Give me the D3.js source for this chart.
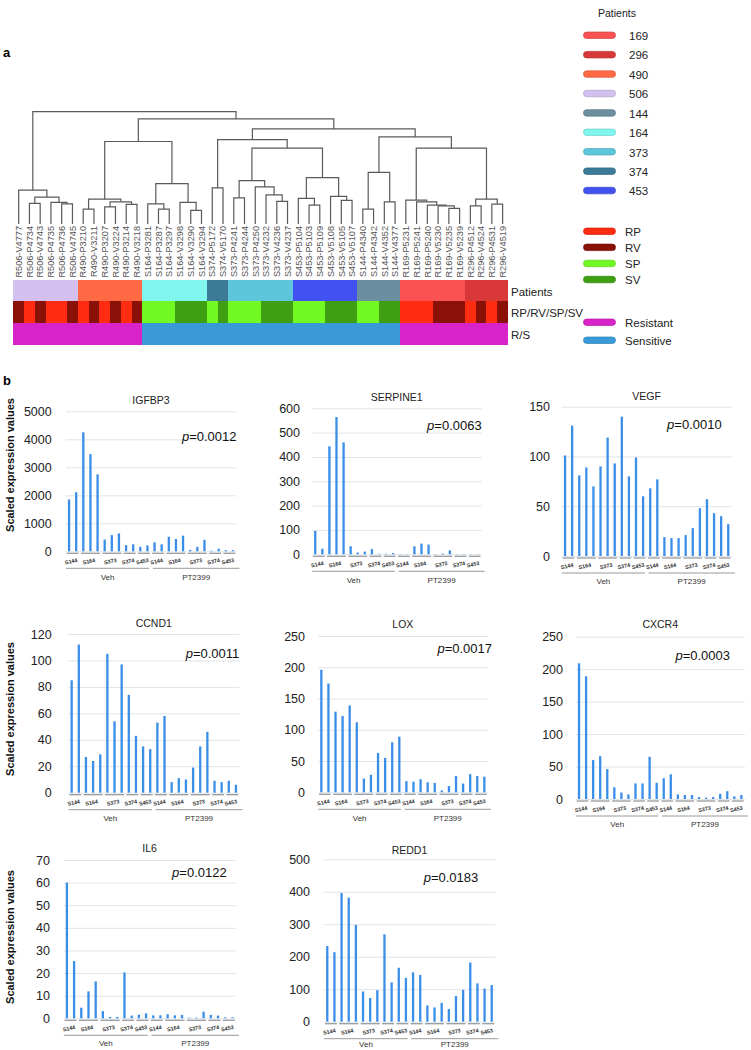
<!DOCTYPE html>
<html><head><meta charset="utf-8">
<script src="https://cdn.jsdelivr.net/npm/d3@7"></script>
<style>
body{margin:0;background:#fff;}
svg{display:block;font-family:"Liberation Sans",Arial,sans-serif;}
</style></head><body>
<svg id="fig" width="751" height="1050"></svg>
<script>
// ---------------- DATA ----------------
const sampleLabels = [
 "R506-V4777","R506-P4734","R506-V4743","R506-P4735","R506-P4736","R506-V4745",
 "R490-P3210","R490-V3211","R490-P3207","R490-V3224","R490-P3214","R490-V3218",
 "S164-P3281","S164-P3287","S164-P3297","S164-V3298","S164-V3290","S164-V3294",
 "S374-P5172","S374-V5170",
 "S373-P4241","S373-P4244","S373-P4250","S373-V4232","S373-V4236","S373-V4237",
 "S453-P5104","S453-P5103","S453-P5109","S453-V5108","S453-V5105","S453-V5107",
 "S144-P4340","S144-P4342","S144-V4352","S144-V4377",
 "R169-P5231","R169-P5241","R169-P5240","R169-V5230","R169-V5235","R169-V5239",
 "R296-P4512","R296-V4524","R296-P4531","R296-V4519"
];
// hclust-style merge table: negative = leaf -(i+1), positive = earlier merge (1-based); third = height
const merges = [
 [-5,-6,20.3],[-4,1,21.7],[-2,-3,20.7],[3,2,27],[-1,4,34],
 [-7,-8,15],[-9,-10,17.3],[-11,-12,19.7],[7,8,22.3],[6,9,25],
 [-14,-15,15],[-13,11,20.3],[-17,-18,13.7],[-16,13,21.7],[12,14,40.7],
 [10,15,83],
 [-19,-20,36.3],
 [-21,-22,26.3],[-25,-26,22.7],[-24,19,29.3],[-23,20,37.3],[18,21,43.7],
 [-28,-29,19],[-27,23,25.7],[-31,-32,23.7],[-30,25,27.7],[24,26,46.7],
 [22,27,76.3],[17,28,85],
 [-33,-34,15],[-35,-36,22.3],[30,31,52],
 [-41,-42,15.7],[-40,33,18.3],[-39,34,19],[-38,35,22.3],[-37,36,24],
 [-43,-44,18.3],[-45,-46,20],[38,39,25],
 [37,40,76.3],[32,41,87.7],[29,42,95.7],[16,43,105.7],[5,44,113]
];
const patientKeys = ["169","296","490","506","144","164","373","374","453"];
const patientColors = ["#fa5252","#d93838","#ff6a44","#d4c0ef","#6b8fa0","#80f6ef","#5ec6db","#3b7b97","#4152f0"];
const typeKeys = ["RP","RV","SP","SV"];
const typeColors = ["#ff2c12","#8a1108","#72f924","#3f9f12"];
const responseKeys = ["Resistant","Sensitive"];
const responseColors = ["#d823c8","#3a9ad8"];

const barGroups = ["S144","S164","S373","S374","S453"];
const groupSizes = [2,3,3,2,2];
const treatments = ["Veh","PT2399"];
const genes = ["IGFBP3","SERPINE1","VEGF","CCND1","LOX","CXCR4","IL6","REDD1"];
const pValues = ["0.0012","0.0063","0.0010","0.0011","0.0017","0.0003","0.0122","0.0183"];
const yMaxes = [5000,600,150,120,250,250,70,500];
const ySteps = [1000,100,50,20,50,50,10,100];
const valIGFBP3 = [1850,2110,4250,3470,2750,420,580,640,220,250,160,210, 320,250,520,440,560,50,160,410,20,90,40,40];
const valSERPINE1 = [96,23,444,564,460,33,7,11,21,2,2,5, 1,1,33,44,40,1,3,16,1,1,1,1];
const valVEGF = [101,131,81,89,70,90,119,93,140,80,99,60, 68,77,19,18,18,21,28,48,57,43,40,32];
const valCCND1 = [85,112,27,24,29,105,54,97,74,43,35,33, 53,58,8,11,10,19,35,46,9,8,9,6];
const valLOX = [196,174,129,122,139,112,22,28,63,55,80,89, 18,17,21,16,15,3,10,26,14,29,26,25];
const valCXCR4 = [209,189,60,66,46,18,10,7,24,24,65,25, 32,38,7,6,6,3,2,3,8,12,4,6];
const valIL6 = [60,25.3,4.7,11.9,16.3,3.2,0.6,0.6,20.3,1.2,1.6,2.2, 1.3,1.3,1.8,1.3,1.5,0.3,0.3,2.9,1.5,1.2,0.4,0.4];
const valREDD1 = [233,214,396,382,298,93,73,97,269,121,166,135, 152,144,50,44,58,39,79,98,182,118,102,113];
const geneValues = [valIGFBP3,valSERPINE1,valVEGF,valCCND1,valLOX,valCXCR4,valIL6,valREDD1];

// ---------------- LAYOUT ----------------
const svg = d3.select("#fig");
const FONT = '"Liberation Sans",Arial,sans-serif';

svg.append("text").attr("x",3).attr("y",57).attr("font-size",13).attr("font-weight","bold").text("a");
svg.append("text").attr("x",3).attr("y",385).attr("font-size",13).attr("font-weight","bold").text("b");

// ---- dendrogram ----
const nLeaf = sampleLabels.length;
const xLeaf = d3.scaleBand().domain(d3.range(nLeaf)).range([13.3,508]);
const yDend = d3.scaleLinear().domain([0,113]).range([224,111.7]);
const built = [];
const getNode = id => id < 0 ? {leaf:-id-1, h:0} : built[id-1];
merges.forEach(([a,b,h]) => built.push({children:[getNode(a),getNode(b)], h}));
const root = d3.hierarchy(built[built.length-1]);
root.eachAfter(n => {
  n.px = n.children ? d3.mean(n.children, c => c.px) : xLeaf(n.data.leaf) + xLeaf.bandwidth()/2;
  n.py = yDend(n.data.h);
});
const gD = svg.append("g");
gD.selectAll("path").data(root.descendants().filter(n => n.children)).join("path")
  .attr("d", n => { const [c0,c1] = n.children;
     return `M${c0.px},${c0.py}V${n.py}H${c1.px}V${c1.py}`; })
  .attr("fill","none").attr("stroke","#5a5a5a").attr("stroke-width",1.2);

gD.selectAll("text").data(sampleLabels).join("text")
  .attr("transform",(d,i)=>`translate(${xLeaf(i)+xLeaf.bandwidth()/2},226) rotate(-90)`)
  .attr("text-anchor","end").attr("dy","0.35em")
  .attr("font-size",9.2).attr("fill","#555").text(d=>d);

// ---- heatmap ----
const rowNames = ["Patients","RP/RV/SP/SV","R/S"];
const yRow = d3.scaleBand().domain(rowNames).range([280,344.3]);
const patientColor = d3.scaleOrdinal(patientKeys, patientColors);
const typeColor = d3.scaleOrdinal(typeKeys, typeColors);
const respColor = d3.scaleOrdinal(responseKeys, responseColors);
const cellColor = [
  s => patientColor(s.slice(1,4)),
  s => typeColor(s[0] + s[5]),
  s => respColor(s[0]==="R" ? "Resistant" : "Sensitive")
];
const gH = svg.append("g").attr("shape-rendering","crispEdges");
rowNames.forEach((r,ri) => {
  gH.selectAll(null).data(sampleLabels).join("rect")
    .attr("x",(d,i)=>xLeaf(i)).attr("width",xLeaf.bandwidth()+0.4)
    .attr("y",yRow(r)).attr("height",yRow.bandwidth()+0.3)
    .attr("fill",d=>cellColor[ri](d));
});
svg.selectAll(".rowlab").data(rowNames).join("text").attr("class","rowlab")
  .attr("x",511).attr("y",r=>yRow(r)+yRow.bandwidth()/2+1).attr("dy","0.35em")
  .attr("font-size",11.5).attr("fill","#222").text(d=>d);

// ---- legends ----
function pill(g, x, y, color){
  g.append("rect").attr("x",x).attr("y",y-3).attr("width",32).attr("height",6.5).attr("rx",3.2)
   .attr("fill",color).attr("stroke",d3.color(color).darker(0.5)).attr("stroke-width",0.7);
}
const gL = svg.append("g");
gL.append("text").attr("x",617).attr("y",13).attr("dy","0.35em").attr("text-anchor","middle")
  .attr("font-size",10.5).attr("fill","#222").text("Patients");
const yLegP = d3.scalePoint().domain(patientKeys).range([35,190.3]);
patientKeys.forEach((k,i)=>{ pill(gL,583.5,yLegP(k),patientColors[i]);
  gL.append("text").attr("x",629).attr("y",yLegP(k)+1).attr("dy","0.35em").attr("font-size",11.5).attr("fill","#222").text(k); });
const yLegT = d3.scalePoint().domain(typeKeys).range([231,279.3]);
typeKeys.forEach((k,i)=>{ pill(gL,583.5,yLegT(k),typeColors[i]);
  gL.append("text").attr("x",625).attr("y",yLegT(k)+1).attr("dy","0.35em").attr("font-size",11.5).attr("fill","#222").text(k); });
const yLegR = d3.scalePoint().domain(responseKeys).range([322,340]);
responseKeys.forEach((k,i)=>{ pill(gL,583.5,yLegR(k),responseColors[i]);
  gL.append("text").attr("x",625).attr("y",yLegR(k)+1).attr("dy","0.35em").attr("font-size",11.5).attr("fill","#222").text(k); });

// ---- bar panels ----
const panelLayout = [
 {l:65.5, r:236.5, top:411.3, zero:551.3, tickR:51.7, titleY:400, pR:236.5, pY:436, yTitle:465, trY:25.5},
 {l:311.7, r:481.7, top:408.3, zero:554.3, tickR:300, titleY:397, pR:481.7, pY:425, trY:25.5},
 {l:561.5, r:731.8, top:406.7, zero:556, tickR:550, titleY:396, pR:721.7, pY:424.3, trY:25.5},
 {l:68.1, r:239.5, top:634, zero:792.7, tickR:51.7, titleY:623, pR:239.3, pY:653.3, yTitle:709, trY:25.5},
 {l:317.8, r:487.9, top:636, zero:792.3, tickR:305, titleY:624, pR:492, pY:648.3, trY:25.5},
 {l:575.5, r:744.9, top:636.7, zero:799, tickR:563, titleY:624, pR:730, pY:655, trY:25.5},
 {l:63.3, r:236, top:860, zero:1018.3, tickR:50, titleY:848.3, pR:226.7, pY:872.3, yTitle:937, trY:24.5},
 {l:323.7, r:495.3, top:859.3, zero:1021.7, tickR:310, titleY:850.7, pR:478.3, pY:877.7, trY:22.3}
];
// category structure: treatment x group x replicate
const cats = [];
treatments.forEach(t => barGroups.forEach((g,gi) => d3.range(groupSizes[gi]).forEach(k => cats.push({t,g}))));

genes.forEach((gene, pi) => {
  const L = panelLayout[pi], vals = geneValues[pi];
  const g = svg.append("g");
  const x = d3.scaleBand().domain(d3.range(cats.length)).range([L.l, L.r]);
  const y = d3.scaleLinear().domain([0, yMaxes[pi]]).range([L.zero, L.top]);
  const ticks = d3.range(0, yMaxes[pi] + ySteps[pi]/2, ySteps[pi]);
  const ax = g.append("g").attr("transform",`translate(${L.l},0)`)
    .call(d3.axisLeft(y).tickValues(ticks).tickSize(-(L.r-L.l)).tickPadding(L.l-L.tickR).tickFormat(d3.format("d")));
  ax.select(".domain").remove();
  ax.selectAll(".tick line").attr("stroke","#dfe5e9").attr("stroke-width",1);
  ax.selectAll(".tick text").attr("font-size",12.5).attr("fill","#222").attr("font-family",FONT);
  // bars
  g.selectAll("rect.bar").data(vals).join("rect").attr("class","bar")
    .attr("x",(d,i)=>x(i)+x.bandwidth()/2-1.15).attr("width",2.3)
    .attr("y",d=>y(d)).attr("height",d=>L.zero-y(d)).attr("fill","#3b8ee8");
  // group underlines & labels
  let idx = 0;
  const segs = [];
  treatments.forEach(t => barGroups.forEach((gr,gi) => { segs.push({t,gr,start:idx,end:idx+groupSizes[gi]-1}); idx += groupSizes[gi]; }));
  g.selectAll("line.grp").data(segs).join("line").attr("class","grp")
    .attr("x1",s=>x(s.start)+1.2).attr("x2",s=>x(s.end)+x.bandwidth()-1.2)
    .attr("y1",L.zero+2).attr("y2",L.zero+2).attr("stroke","#9a9a9a").attr("stroke-width",1.3);
  g.selectAll("text.grp").data(segs).join("text").attr("class","grp")
    .attr("transform",s=>`translate(${(x(s.start)+x(s.end)+x.bandwidth())/2-1.5},${L.zero+10}) rotate(-12)`)
    .attr("text-anchor","middle").attr("dy","0.35em").attr("font-size",5.4).attr("font-weight","bold")
    .attr("fill","#333").text(s=>s.gr);
  // treatment lines & labels
  const mid = x(12);
  const tr = [{t:"Veh",a:L.l+0.5,b:mid-1.8},{t:"PT2399",a:mid+1.8,b:L.r+3}];
  g.selectAll("line.tr").data(tr).join("line").attr("class","tr")
    .attr("x1",d=>d.a).attr("x2",d=>d.b).attr("y1",L.zero+17).attr("y2",L.zero+17)
    .attr("stroke","#9a9a9a").attr("stroke-width",1);
  g.selectAll("text.tr").data(tr).join("text").attr("class","tr")
    .attr("x",d=>(d.a+d.b)/2).attr("y",L.zero+L.trY).attr("dy","0.35em").attr("text-anchor","middle")
    .attr("font-size",8).attr("fill","#333").text(d=>d.t);
  // title
  g.append("text").attr("x",(L.l+L.r)/2).attr("y",L.titleY).attr("dy","0.35em").attr("text-anchor","middle")
    .attr("font-size",10.5).attr("fill","#222").text(gene);
  // p value
  const pt = g.append("text").attr("x",L.pR).attr("y",L.pY).attr("dy","0.35em").attr("text-anchor","end")
    .attr("font-size",13).attr("fill","#111");
  pt.append("tspan").attr("font-style","italic").text("p");
  pt.append("tspan").text("=" + pValues[pi]);
  // y axis title
  if (L.yTitle) {
    g.append("text").attr("transform",`translate(10,${L.yTitle}) rotate(-90)`).attr("dy","0.35em")
      .attr("text-anchor","middle").attr("font-size",11).attr("font-weight","bold").attr("fill","#111")
      .text("Scaled expression values");
  }
});
</script>
</body></html>
